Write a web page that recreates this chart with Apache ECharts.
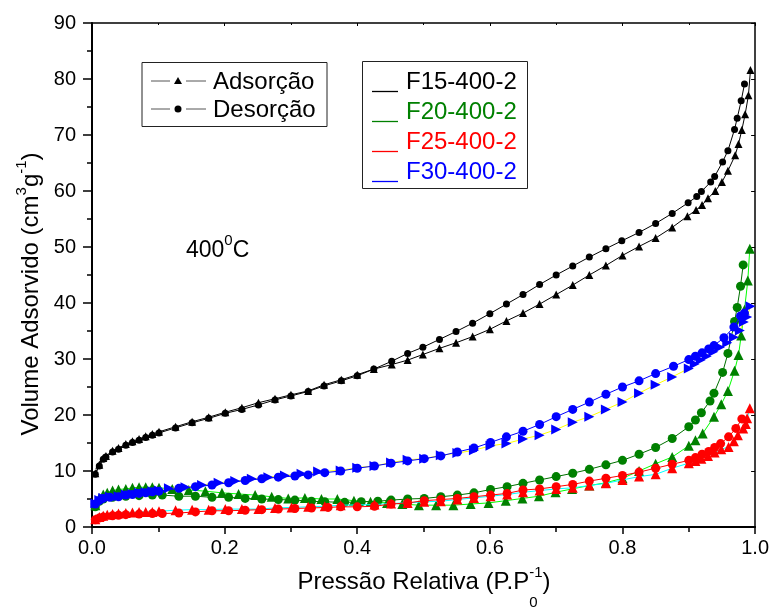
<!DOCTYPE html>
<html>
<head>
<meta charset="utf-8">
<script src="https://cdn.jsdelivr.net/npm/echarts@6/dist/echarts.min.js"></script>
<style>
  html, body { margin: 0; padding: 0; background: #fff; }
  #chart { width: 772px; height: 612px; }
</style>
</head>
<body>
<div id="chart"></div>
<script>
// N2 isotherms at 400 °C: relative pressure (P/P0) vs adsorbed volume (cm3/g)

// F15-400-2
const f15AdsP = [0.005,0.011,0.017,0.021,0.031,0.040,0.051,0.061,0.071,0.081,0.091,0.101,0.126,0.151,0.176,0.201,0.226,0.251,0.276,0.300,0.326,0.350,0.376,0.400,0.425,0.452,0.476,0.499,0.524,0.549,0.574,0.600,0.625,0.650,0.675,0.700,0.725,0.750,0.775,0.800,0.825,0.850,0.875,0.898,0.911,0.920,0.929,0.940,0.950,0.959,0.970,0.975,0.980,0.985,0.990,0.993];
const f15AdsV = [9.6,11.1,12.3,12.7,13.6,14.1,14.8,15.3,15.7,16.2,16.6,17.0,17.9,18.8,19.6,20.5,21.3,22.2,22.9,23.6,24.3,25.4,26.3,27.2,28.2,29.0,29.8,30.8,31.9,32.9,34.0,35.3,36.8,38.2,39.8,41.5,43.2,45.0,46.7,48.5,50.1,51.6,53.5,55.5,56.6,57.5,58.7,60.0,61.6,63.6,66.4,68.4,70.9,73.7,77.1,81.6];
const f15DesP = [0.005,0.011,0.017,0.021,0.031,0.040,0.051,0.061,0.071,0.081,0.091,0.101,0.126,0.151,0.176,0.201,0.226,0.251,0.276,0.300,0.326,0.350,0.376,0.400,0.425,0.452,0.476,0.499,0.524,0.549,0.574,0.600,0.625,0.650,0.675,0.700,0.725,0.750,0.775,0.799,0.825,0.850,0.875,0.899,0.912,0.919,0.933,0.939,0.951,0.959,0.969,0.973,0.979,0.984];
const f15DesV = [9.4,10.9,12.1,12.5,13.4,13.9,14.6,15.1,15.5,16.0,16.4,16.8,17.7,18.6,19.4,20.3,21.0,21.8,22.7,23.4,24.2,25.2,26.1,27.0,28.2,29.6,31.0,32.1,33.5,34.9,36.4,38.1,39.8,41.5,43.3,45.0,46.6,48.2,49.7,51.1,52.6,54.2,56.0,57.9,59.0,59.9,61.6,62.6,65.2,67.2,71.0,73.0,76.1,79.1];

// F20-400-2
const f20AdsP = [0.005,0.011,0.017,0.023,0.031,0.040,0.051,0.061,0.071,0.081,0.091,0.101,0.121,0.146,0.171,0.196,0.221,0.246,0.271,0.296,0.321,0.346,0.370,0.395,0.420,0.445,0.468,0.493,0.519,0.545,0.571,0.598,0.624,0.649,0.674,0.699,0.724,0.750,0.775,0.800,0.825,0.850,0.875,0.900,0.910,0.921,0.938,0.949,0.959,0.969,0.975,0.979,0.984,0.989,0.992];
const f20AdsV = [3.9,5.2,5.8,6.1,6.5,6.7,6.8,7.0,7.1,7.1,7.1,7.0,6.8,6.6,6.4,6.1,5.9,5.7,5.4,5.1,5.2,5.0,5.0,4.7,4.5,4.3,4.1,3.9,3.9,3.9,4.1,4.3,4.7,5.1,5.5,6.2,6.8,7.4,7.9,8.7,10.0,11.3,12.5,14.5,15.5,16.7,19.7,21.9,24.3,27.9,30.7,34.2,38.8,44.0,49.7];
const f20DesP = [0.005,0.011,0.017,0.031,0.051,0.071,0.091,0.106,0.131,0.156,0.181,0.206,0.231,0.256,0.281,0.306,0.331,0.351,0.381,0.406,0.431,0.451,0.476,0.501,0.526,0.551,0.576,0.601,0.626,0.650,0.675,0.700,0.725,0.750,0.775,0.800,0.825,0.850,0.875,0.900,0.910,0.919,0.932,0.938,0.951,0.959,0.969,0.973,0.978,0.982];
const f20DesV = [3.6,4.6,5.0,5.3,5.5,5.6,5.7,5.7,5.5,5.5,5.3,5.3,5.1,5.0,4.9,4.8,4.6,4.5,4.4,4.5,4.6,4.8,5.0,5.1,5.4,5.7,6.1,6.7,7.2,7.8,8.4,9.0,9.6,10.3,11.1,11.9,13.0,14.2,15.8,17.9,19.1,20.4,22.5,23.9,27.6,31.0,36.7,39.2,43.0,46.8];

// F25-400-2
const f25AdsP = [0.005,0.011,0.017,0.023,0.031,0.040,0.051,0.061,0.071,0.081,0.091,0.101,0.126,0.151,0.176,0.201,0.226,0.251,0.276,0.301,0.326,0.351,0.375,0.426,0.451,0.476,0.501,0.526,0.551,0.576,0.601,0.626,0.650,0.675,0.700,0.725,0.750,0.775,0.800,0.825,0.850,0.875,0.900,0.910,0.919,0.929,0.939,0.949,0.960,0.968,0.974,0.982,0.986,0.988,0.992];
const f25AdsV = [1.4,1.8,2.0,2.2,2.3,2.4,2.5,2.6,2.7,2.7,2.7,2.8,3.0,3.1,3.1,3.2,3.2,3.2,3.4,3.5,3.6,3.7,3.9,4.0,4.2,4.3,4.5,4.6,4.9,5.2,5.5,5.8,6.2,6.5,6.8,7.0,7.4,7.8,8.4,9.0,9.4,10.5,11.4,11.8,12.2,12.7,13.3,13.9,14.3,15.3,16.4,17.6,18.4,19.4,21.2];
const f25DesP = [0.005,0.011,0.017,0.031,0.040,0.051,0.071,0.091,0.106,0.131,0.156,0.181,0.206,0.231,0.256,0.281,0.306,0.331,0.356,0.375,0.400,0.426,0.451,0.476,0.501,0.526,0.551,0.576,0.601,0.626,0.650,0.675,0.700,0.725,0.750,0.775,0.800,0.825,0.850,0.875,0.900,0.910,0.920,0.930,0.939,0.948,0.960,0.971,0.980];
const f25DesV = [1.3,1.6,1.8,2.0,2.1,2.2,2.3,2.4,2.4,2.5,2.7,2.9,2.9,3.0,3.1,3.2,3.3,3.4,3.5,3.6,3.6,3.7,4.1,4.3,4.7,4.9,5.1,5.4,5.7,6.0,6.6,6.8,7.2,7.6,8.2,8.7,9.2,9.8,10.5,11.2,11.9,12.4,13.0,13.5,14.2,14.9,16.1,17.6,19.3];

// F30-400-2
const f30AdsP = [0.005,0.011,0.017,0.027,0.040,0.051,0.061,0.071,0.081,0.091,0.101,0.116,0.141,0.166,0.191,0.216,0.241,0.266,0.291,0.316,0.341,0.375,0.400,0.426,0.451,0.476,0.501,0.526,0.551,0.576,0.601,0.625,0.650,0.675,0.700,0.725,0.750,0.775,0.800,0.825,0.850,0.875,0.900,0.909,0.918,0.927,0.937,0.947,0.958,0.968,0.977,0.983,0.988,0.993];
const f30AdsV = [4.2,4.8,5.2,5.4,5.5,5.8,5.9,6.1,6.2,6.4,6.5,6.9,7.1,7.5,7.9,8.2,8.6,8.9,9.2,9.5,9.9,10.1,10.6,10.9,11.5,12.0,12.2,12.8,13.2,13.7,14.5,14.9,15.7,16.4,17.4,18.7,19.7,21.0,22.3,23.9,25.4,26.8,28.3,29.1,29.8,30.5,31.3,32.1,32.9,33.9,35.1,36.6,37.5,39.4];
const f30DesP = [0.005,0.011,0.017,0.027,0.040,0.051,0.061,0.071,0.081,0.091,0.101,0.131,0.156,0.181,0.206,0.231,0.256,0.281,0.306,0.326,0.351,0.375,0.400,0.426,0.451,0.476,0.501,0.526,0.551,0.576,0.601,0.625,0.650,0.675,0.700,0.725,0.750,0.775,0.800,0.825,0.850,0.877,0.900,0.910,0.920,0.930,0.938,0.953,0.968,0.978,0.984];
const f30DesV = [4.1,4.7,5.1,5.3,5.4,5.7,5.8,6.0,6.1,6.3,6.4,6.9,7.2,7.5,7.9,8.3,8.6,8.9,9.1,9.3,9.7,10.0,10.5,10.9,11.4,11.8,12.2,12.7,13.4,14.1,15.1,16.1,17.1,18.3,19.7,21.0,22.3,23.7,25.0,26.1,27.4,28.7,29.9,30.5,31.1,31.8,32.4,33.8,35.7,37.7,38.2];

// Axis setup and labels
const xMin = 0, xMax = 1, xStep = 0.2;
const yMin = 0, yMax = 90, yStep = 10;
const sampleNames = ['F15-400-2', 'F20-400-2', 'F25-400-2', 'F30-400-2'];
const sampleColors = ['#000000', '#008000', '#ff0000', '#0000ff'];
const branchNames = ['Adsorção', 'Desorção'];

const FONT = 'Arial, "Liberation Sans", sans-serif';

const measureCtx = document.createElement('canvas').getContext('2d');
function textWidth(str, size) {
  measureCtx.font = size + 'px ' + FONT;
  return measureCtx.measureText(str).width;
}

// Lays out a run of text pieces (normal, superscript, subscript) left to right.
// A piece with stack:true shares the x position of the previous piece.
function textRun(pieces, color, shiftX) {
  let x = 0, lastStart = 0, lastW = 0;
  const items = [];
  pieces.forEach(p => {
    const w = textWidth(p.t, p.size);
    let px;
    if (p.stack) {
      px = lastStart;
      lastW = Math.max(lastW, w);
      x = lastStart + lastW;
    } else {
      px = x; lastStart = x; lastW = w; x += w;
    }
    items.push({ t: p.t, size: p.size, x: px, dy: p.dy || 0 });
  });
  const off = shiftX === 'center' ? -x / 2 : 0;
  return items.map(it => ({
    type: 'text', z: 20,
    style: {
      text: it.t, x: it.x + off, y: it.dy,
      font: it.size + 'px ' + FONT, fill: color,
      textAlign: 'left', textVerticalAlign: 'middle'
    }
  }));
}

function pairs(ps, vs) { return ps.map((p, i) => [p, vs[i]]); }

function branch(name, ps, vs, symbol, size, markColor, lineColor, rotate, z) {
  return {
    name: name, type: 'line', data: pairs(ps, vs),
    symbol: symbol, symbolSize: size, symbolRotate: rotate || 0,
    showAllSymbol: true, clip: false, z: z,
    itemStyle: { color: markColor, borderWidth: 0 },
    lineStyle: { color: lineColor, width: 1 },
    emphasis: { disabled: true }, animation: false
  };
}

const series = [
  branch('F15 ads', f15AdsP, f15AdsV, 'triangle', 8, '#000', '#000', 0, 2),
  branch('F15 des', f15DesP, f15DesV, 'circle', 7, '#000', '#000', 0, 2),
  branch('F20 ads', f20AdsP, f20AdsV, 'triangle', 10, sampleColors[1], '#00ff00', 0, 3),
  branch('F20 des', f20DesP, f20DesV, 'circle', 9, sampleColors[1], '#007000', 0, 3),
  branch('F25 ads', f25AdsP, f25AdsV, 'triangle', 10, sampleColors[2], '#00ffff', 0, 4),
  branch('F25 des', f25DesP, f25DesV, 'circle', 9, sampleColors[2], '#ff0000', 0, 4),
  branch('F30 ads', f30AdsP, f30AdsV, 'triangle', 10, sampleColors[3], '#ffff00', -90, 5),
  branch('F30 des', f30DesP, f30DesV, 'circle', 9, sampleColors[3], '#0000ff', 0, 5)
];

const tickStyle = { color: '#000', width: 1.5 };

// Legend boxes, axis titles and the temperature note
const graphics = [];

// branch legend (marker style)
graphics.push({ type: 'rect', shape: { x: 142, y: 62.5, width: 185, height: 64 },
  style: { fill: '#fff', stroke: '#222', lineWidth: 1 }, z: 10 });
[81, 109].forEach((cy, i) => {
  graphics.push({ type: 'line', shape: { x1: 151, y1: cy, x2: 170, y2: cy }, style: { stroke: '#555', lineWidth: 1 }, z: 11 });
  graphics.push({ type: 'line', shape: { x1: 186, y1: cy, x2: 206, y2: cy }, style: { stroke: '#555', lineWidth: 1 }, z: 11 });
  if (i === 0) {
    graphics.push({ type: 'polygon', shape: { points: [[178, cy - 4], [174, cy + 3], [182, cy + 3]] }, style: { fill: '#000' }, z: 11 });
  } else {
    graphics.push({ type: 'circle', shape: { cx: 178, cy: cy, r: 3.5 }, style: { fill: '#000' }, z: 11 });
  }
  graphics.push({ type: 'group', x: 213, y: cy + 1, children: textRun([{ t: branchNames[i], size: 24 }], '#000') });
});

// sample legend (colour)
graphics.push({ type: 'rect', shape: { x: 362.5, y: 61.5, width: 165, height: 127 },
  style: { fill: '#fff', stroke: '#222', lineWidth: 1 }, z: 10 });
sampleNames.forEach((nm, i) => {
  const cy = 81 + i * 30;
  graphics.push({ type: 'line', shape: { x1: 372, y1: cy + 10.5, x2: 398, y2: cy + 10.5 }, style: { stroke: sampleColors[i], lineWidth: 1.3 }, z: 11 });
  graphics.push({ type: 'group', x: 406, y: cy + 1, children: textRun([{ t: nm, size: 24 }], sampleColors[i]) });
});

// temperature note
graphics.push({ type: 'group', x: 186, y: 251,
  children: textRun([{ t: '400', size: 23 }, { t: '0', size: 15, dy: -10 }, { t: 'C', size: 23 }], '#000') });

// x axis title
graphics.push({ type: 'group', x: 424, y: 582,
  children: textRun([
    { t: 'Pressão Relativa (P.P', size: 24 },
    { t: '-1', size: 15, dy: -9 },
    { t: '0', size: 15, dy: 21, stack: true },
    { t: ')', size: 24 }
  ], '#000', 'center') });

// y axis title (rotated to read bottom to top)
graphics.push({ type: 'group', x: 31, y: 294, rotation: Math.PI / 2,
  children: textRun([
    { t: 'Volume Adsorvido (cm', size: 24 },
    { t: '3', size: 15, dy: -9 },
    { t: 'g', size: 24 },
    { t: '-1', size: 15, dy: -9 },
    { t: ')', size: 24 }
  ], '#000', 'center') });

const chart = echarts.init(document.getElementById('chart'), null, { renderer: 'canvas' });
chart.setOption({
  animation: false,
  backgroundColor: '#fff',
  grid: { left: 92, right: 15, top: 23, bottom: 85, containLabel: false },
  xAxis: [{
    type: 'value', min: xMin, max: xMax, interval: xStep, position: 'bottom',
    axisLine: { show: true, onZero: false, lineStyle: { color: '#000', width: 2 } },
    axisTick: { show: true, inside: false, length: 7, lineStyle: tickStyle },
    minorTick: { show: true, splitNumber: 2, length: 5, lineStyle: tickStyle },
    axisLabel: { color: '#000', fontSize: 20, fontFamily: FONT, margin: 11, formatter: v => v.toFixed(1) },
    splitLine: { show: false }
  }, {
    type: 'value', min: xMin, max: xMax, interval: xStep, position: 'top',
    axisLine: { show: true, onZero: false, lineStyle: { color: '#000', width: 1.5 } },
    axisTick: { show: true, inside: true, length: 3, lineStyle: { color: '#000', width: 1 } },
    minorTick: { show: true, splitNumber: 2, length: 2, lineStyle: { color: '#000', width: 1 } },
    axisLabel: { show: false }, splitLine: { show: false }
  }],
  yAxis: [{
    type: 'value', min: yMin, max: yMax, interval: yStep, position: 'left',
    axisLine: { show: true, onZero: false, lineStyle: { color: '#000', width: 2 } },
    axisTick: { show: true, inside: false, length: 9, lineStyle: tickStyle },
    minorTick: { show: true, splitNumber: 2, length: 5, lineStyle: tickStyle },
    axisLabel: { color: '#000', fontSize: 20, fontFamily: FONT, margin: 16 },
    splitLine: { show: false }
  }, {
    type: 'value', min: yMin, max: yMax, interval: yStep, position: 'right',
    axisLine: { show: true, onZero: false, lineStyle: { color: '#000', width: 1.5 } },
    axisTick: { show: true, inside: true, length: 4, lineStyle: { color: '#000', width: 1 } },
    minorTick: { show: false },
    axisLabel: { show: false }, splitLine: { show: false }
  }],
  series: series,
  graphic: graphics
});
</script>
</body>
</html>
